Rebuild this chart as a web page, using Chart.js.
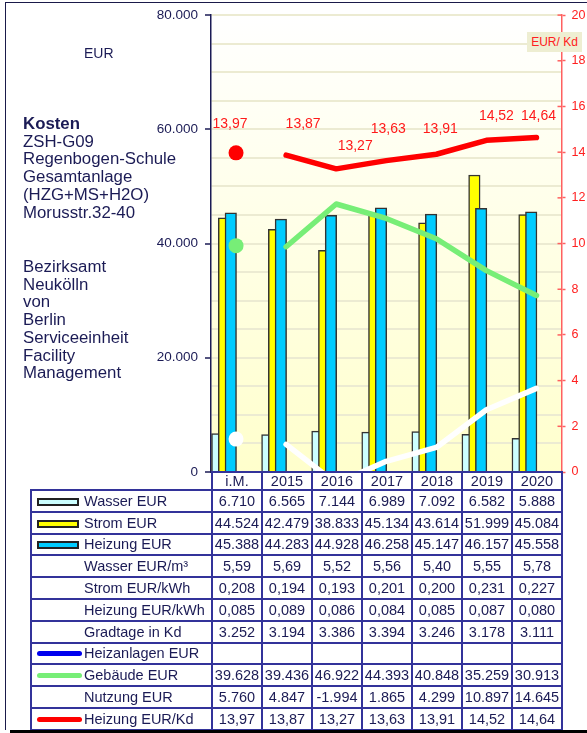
<!DOCTYPE html>
<html>
<head>
<meta charset="utf-8">
<script src="https://cdn.jsdelivr.net/npm/chart.js@4.4.0/dist/chart.umd.min.js"></script>
<style>
  body { margin: 0; background: #fff; font-family: "Liberation Sans", Arial, sans-serif; }
  #wrap { position: relative; width: 587px; height: 733px; overflow: hidden; }
  #chartBox { position: absolute; left: 0; top: 0; width: 587px; height: 733px; }
  .frame { position: absolute; left: 5px; top: 2px; width: 640px; height: 727px;
           border-left: 1.5px solid #1a1a4a; border-top: 1.5px solid #1a1a4a; }
  .shadow { position: absolute; left: 10px; top: 730px; width: 580px; height: 3px; background: #000; }
  .side { position: absolute; left: 23px; color: #1b1b55; font-size: 16px; line-height: 17.7px; white-space: nowrap;
          transform: scaleX(1.05); transform-origin: left top; }
  .eur { position: absolute; left: 84px; top: 45px; color: #1b1b55; font-size: 14px; }
  .unit { position: absolute; left: 527px; top: 32px; width: 55px; height: 20px; background: #eeeed2;
          color: #ff2020; font-size: 12px; line-height: 20px; text-align: center; }
  #tbl { position: absolute; left: 30px; top: 471px; border-collapse: collapse; table-layout: fixed;
         font-size: 14.5px; color: #1b1b55; }
  #tbl td { border: 2px solid #33339a; padding: 0; text-align: center; white-space: nowrap; overflow: hidden; }
  #tbl tr { height: 21.8px; }
  #tbl tr.yr { height: 18px; }
  #tbl td.lab { text-align: left; padding-left: 52px; position: relative; }
  #tbl td.blank { border: none; }
  .sw { position: absolute; left: 5px; top: 50%; }
</style>
</head>
<body>
<div id="wrap">
  <div class="frame"></div>
  <div id="chartBox"><canvas id="c"></canvas></div>
  <div class="eur">EUR</div>
  <div class="side" style="top:115px"><b>Kosten</b><br>ZSH-G09<br>Regenbogen-Schule<br>Gesamtanlage<br>(HZG+MS+H2O)<br>Morusstr.32-40</div>
  <div class="side" style="top:258px">Bezirksamt<br>Neukölln<br>von<br>Berlin<br>Serviceeinheit<br>Facility<br>Management</div>
  <div class="unit">EUR/ Kd</div>
  <table id="tbl"></table>
  <div class="shadow"></div>
</div>
<script>
const categories = ['i.M.', '2015', '2016', '2017', '2018', '2019', '2020'];

const wasserEur = [6710, 6565, 7144, 6989, 7092, 6582, 5888];
const stromEur = [44524, 42479, 38833, 45134, 43614, 51999, 45084];
const heizungEur = [45388, 44283, 44928, 46258, 45147, 46157, 45558];
const wasserEurM3 = [5.59, 5.69, 5.52, 5.56, 5.40, 5.55, 5.78];
const stromEurKwh = [0.208, 0.194, 0.193, 0.201, 0.200, 0.231, 0.227];
const heizungEurKwh = [0.085, 0.089, 0.086, 0.084, 0.085, 0.087, 0.080];
const gradtage = [3252, 3194, 3386, 3394, 3246, 3178, 3111];
const heizanlagenEur = [null, null, null, null, null, null, null];
const gebaeudeEur = [39628, 39436, 46922, 44393, 40848, 35259, 30913];
const nutzungEur = [5760, 4847, -1994, 1865, 4299, 10897, 14645];
const heizungEurKd = [13.97, 13.87, 13.27, 13.63, 13.91, 14.52, 14.64];

const leftTicks = [0, 20000, 40000, 60000, 80000];

// kleine Helfer fuer deutsche Zahlen
function fmtInt(v) {
  if (v === null) return '';
  const s = Math.abs(v).toString().replace(/\B(?=(\d{3})+(?!\d))/g, '.');
  return (v < 0 ? '-' : '') + s;
}
function fmtDec(d) {
  return v => v === null ? '' : v.toFixed(d).replace('.', ',');
}

const NAVY = '#1b1b55';
const RED = '#ff0000';
const GREEN = '#77ee77';

// Tabelle unter dem Diagramm
const rows = [
  ['Wasser EUR', wasserEur, fmtInt, 'bar', '#ccffff'],
  ['Strom EUR', stromEur, fmtInt, 'bar', '#ffff00'],
  ['Heizung EUR', heizungEur, fmtInt, 'bar', '#00ccff'],
  ['Wasser EUR/m³', wasserEurM3, fmtDec(2)],
  ['Strom EUR/kWh', stromEurKwh, fmtDec(3)],
  ['Heizung EUR/kWh', heizungEurKwh, fmtDec(3)],
  ['Gradtage in Kd', gradtage, fmtInt],
  ['Heizanlagen EUR', heizanlagenEur, fmtInt, 'line', '#0000ee'],
  ['Gebäude EUR', gebaeudeEur, fmtInt, 'line', GREEN],
  ['Nutzung EUR', nutzungEur, fmtInt],
  ['Heizung EUR/Kd', heizungEurKd, fmtDec(2), 'line', RED]
];

let html = '<colgroup><col style="width:181px">' + categories.map(() => '<col style="width:50px">').join('') + '</colgroup>';
html += '<tr class="yr"><td class="blank"></td>' + categories.map(c => `<td>${c}</td>`).join('') + '</tr>';
rows.forEach(([label, vals, fmt, sw, col]) => {
  let swatch = '';
  if (sw === 'bar') {
    swatch = `<span class="sw" style="width:38px;height:4px;margin-top:-3px;border:2px solid #222;background:${col}"></span>`;
  } else if (sw === 'line') {
    swatch = `<span class="sw" style="left:5px;width:45px;height:5px;margin-top:-2px;border-radius:3px;background:${col}"></span>`;
  }
  html += `<tr><td class="lab">${swatch}${label}</td>` + vals.map(v => `<td>${fmt(v)}</td>`).join('') + '</tr>';
});
document.getElementById('tbl').innerHTML = html;

// Balken leicht ueberlappend, links in der Kategorie
const barShift = [-0.375, -0.24, -0.105];
const labelNudge = [[-6, -29], [17, -31], [19, -23], [2, -31], [4, -25], [10, -24], [2, -21]];

const bgPlugin = {
  id: 'bg',
  beforeDraw(chart) {
    const { ctx, chartArea: a } = chart;
    const g = ctx.createLinearGradient(0, a.top, 0, a.bottom);
    g.addColorStop(0, '#ffffff');
    g.addColorStop(1, '#ffffcc');
    ctx.save();
    ctx.fillStyle = g;
    ctx.fillRect(a.left, a.top, a.right - a.left, a.bottom - a.top);
    ctx.restore();
  },
  afterDraw(chart) {
    const { ctx, chartArea: a } = chart;
    const y2 = chart.scales.y2;
    ctx.save();
    ctx.strokeStyle = '#ff6060';
    ctx.lineWidth = 1.5;
    y2.ticks.forEach(t => {
      const py = y2.getPixelForValue(t.value);
      ctx.beginPath();
      ctx.moveTo(a.right - 4, py);
      ctx.lineTo(a.right, py);
      ctx.stroke();
    });
    // Werte der roten Linie
    const meta = chart.getDatasetMeta(0);
    ctx.fillStyle = '#ff1a1a';
    ctx.font = '14px "Liberation Sans", Arial, sans-serif';
    ctx.textAlign = 'center';
    ctx.textBaseline = 'middle';
    meta.data.forEach((p, i) => {
      const n = labelNudge[i];
      ctx.fillText(heizungEurKd[i].toFixed(2).replace('.', ','), p.x + n[0], p.y + n[1]);
    });
    ctx.restore();
  }
};

function lineSet(label, vals, color, axis, order) {
  return {
    type: 'line',
    label,
    data: vals.map((v, i) => ({ x: i, y: v })),
    yAxisID: axis,
    borderColor: color,
    backgroundColor: color,
    borderWidth: 5.5,
    borderCapStyle: 'round',
    borderJoinStyle: 'round',
    pointRadius: ctx => ctx.dataIndex === 0 ? 7.5 : 0,
    pointBorderWidth: 0,
    pointBackgroundColor: color,
    segment: { borderColor: ctx => ctx.p0DataIndex === 0 ? 'rgba(0,0,0,0)' : color },
    tension: 0,
    order
  };
}

function barSet(label, vals, color, k, order) {
  return {
    label,
    data: vals.map((v, i) => ({ x: i + barShift[k], y: v })),
    yAxisID: 'y',
    backgroundColor: color,
    borderColor: '#333333',
    borderWidth: 1.5,
    barThickness: 11.5,
    grouped: false,
    order
  };
}

Chart.defaults.font.family = '"Liberation Sans", Arial, sans-serif';

new Chart(document.getElementById('c'), {
  type: 'bar',
  data: {
    datasets: [
      lineSet('Heizung EUR/Kd', heizungEurKd, RED, 'y2', 0),
      lineSet('Gebäude EUR', gebaeudeEur, GREEN, 'y', 1),
      lineSet('Nutzung EUR', nutzungEur, '#ffffff', 'y', 2),
      barSet('Heizung EUR', heizungEur, '#00ccff', 2, 3),
      barSet('Strom EUR', stromEur, '#ffff00', 1, 4),
      barSet('Wasser EUR', wasserEur, '#ccffff', 0, 5)
    ]
  },
  options: {
    responsive: true,
    maintainAspectRatio: false,
    animation: false,
    layout: { padding: { left: 0, top: 12, right: 0, bottom: 261 } },
    plugins: { legend: { display: false }, tooltip: { enabled: false } },
    scales: {
      x: { type: 'linear', min: -0.5, max: 6.5, offset: false, display: false },
      y: {
        position: 'left',
        min: 0, max: 80000,
        afterFit: s => { s.width = 211; },
        afterBuildTicks: s => {
          const t = [];
          for (let v = 0; v <= 80000; v += 5000) t.push({ value: v });
          s.ticks = t;
        },
        ticks: {
          color: NAVY,
          font: { size: 13.5 },
          padding: 7,
          callback: v => leftTicks.includes(v) ? fmtInt(v) : ''
        },
        grid: {
          color: c => c.tick && c.tick.value === 0 ? 'rgba(0,0,0,0)' : '#ecebd2',
          lineWidth: 2,
          tickLength: 6,
          tickColor: c => c.tick && leftTicks.includes(c.tick.value) ? NAVY : 'rgba(0,0,0,0)',
          tickWidth: 1.5
        },
        border: { color: NAVY, width: 1.5 }
      },
      y2: {
        position: 'right',
        min: 0, max: 20,
        afterFit: s => { s.width = 25.5; },
        ticks: { stepSize: 2, color: '#ff2020', font: { size: 12.5 }, padding: 6 },
        grid: { drawOnChartArea: false, tickLength: 4, tickColor: '#ff6060', tickWidth: 1.5 },
        border: { color: '#ff6060', width: 1.5 }
      }
    }
  },
  plugins: [bgPlugin]
});
</script>
</body>
</html>
